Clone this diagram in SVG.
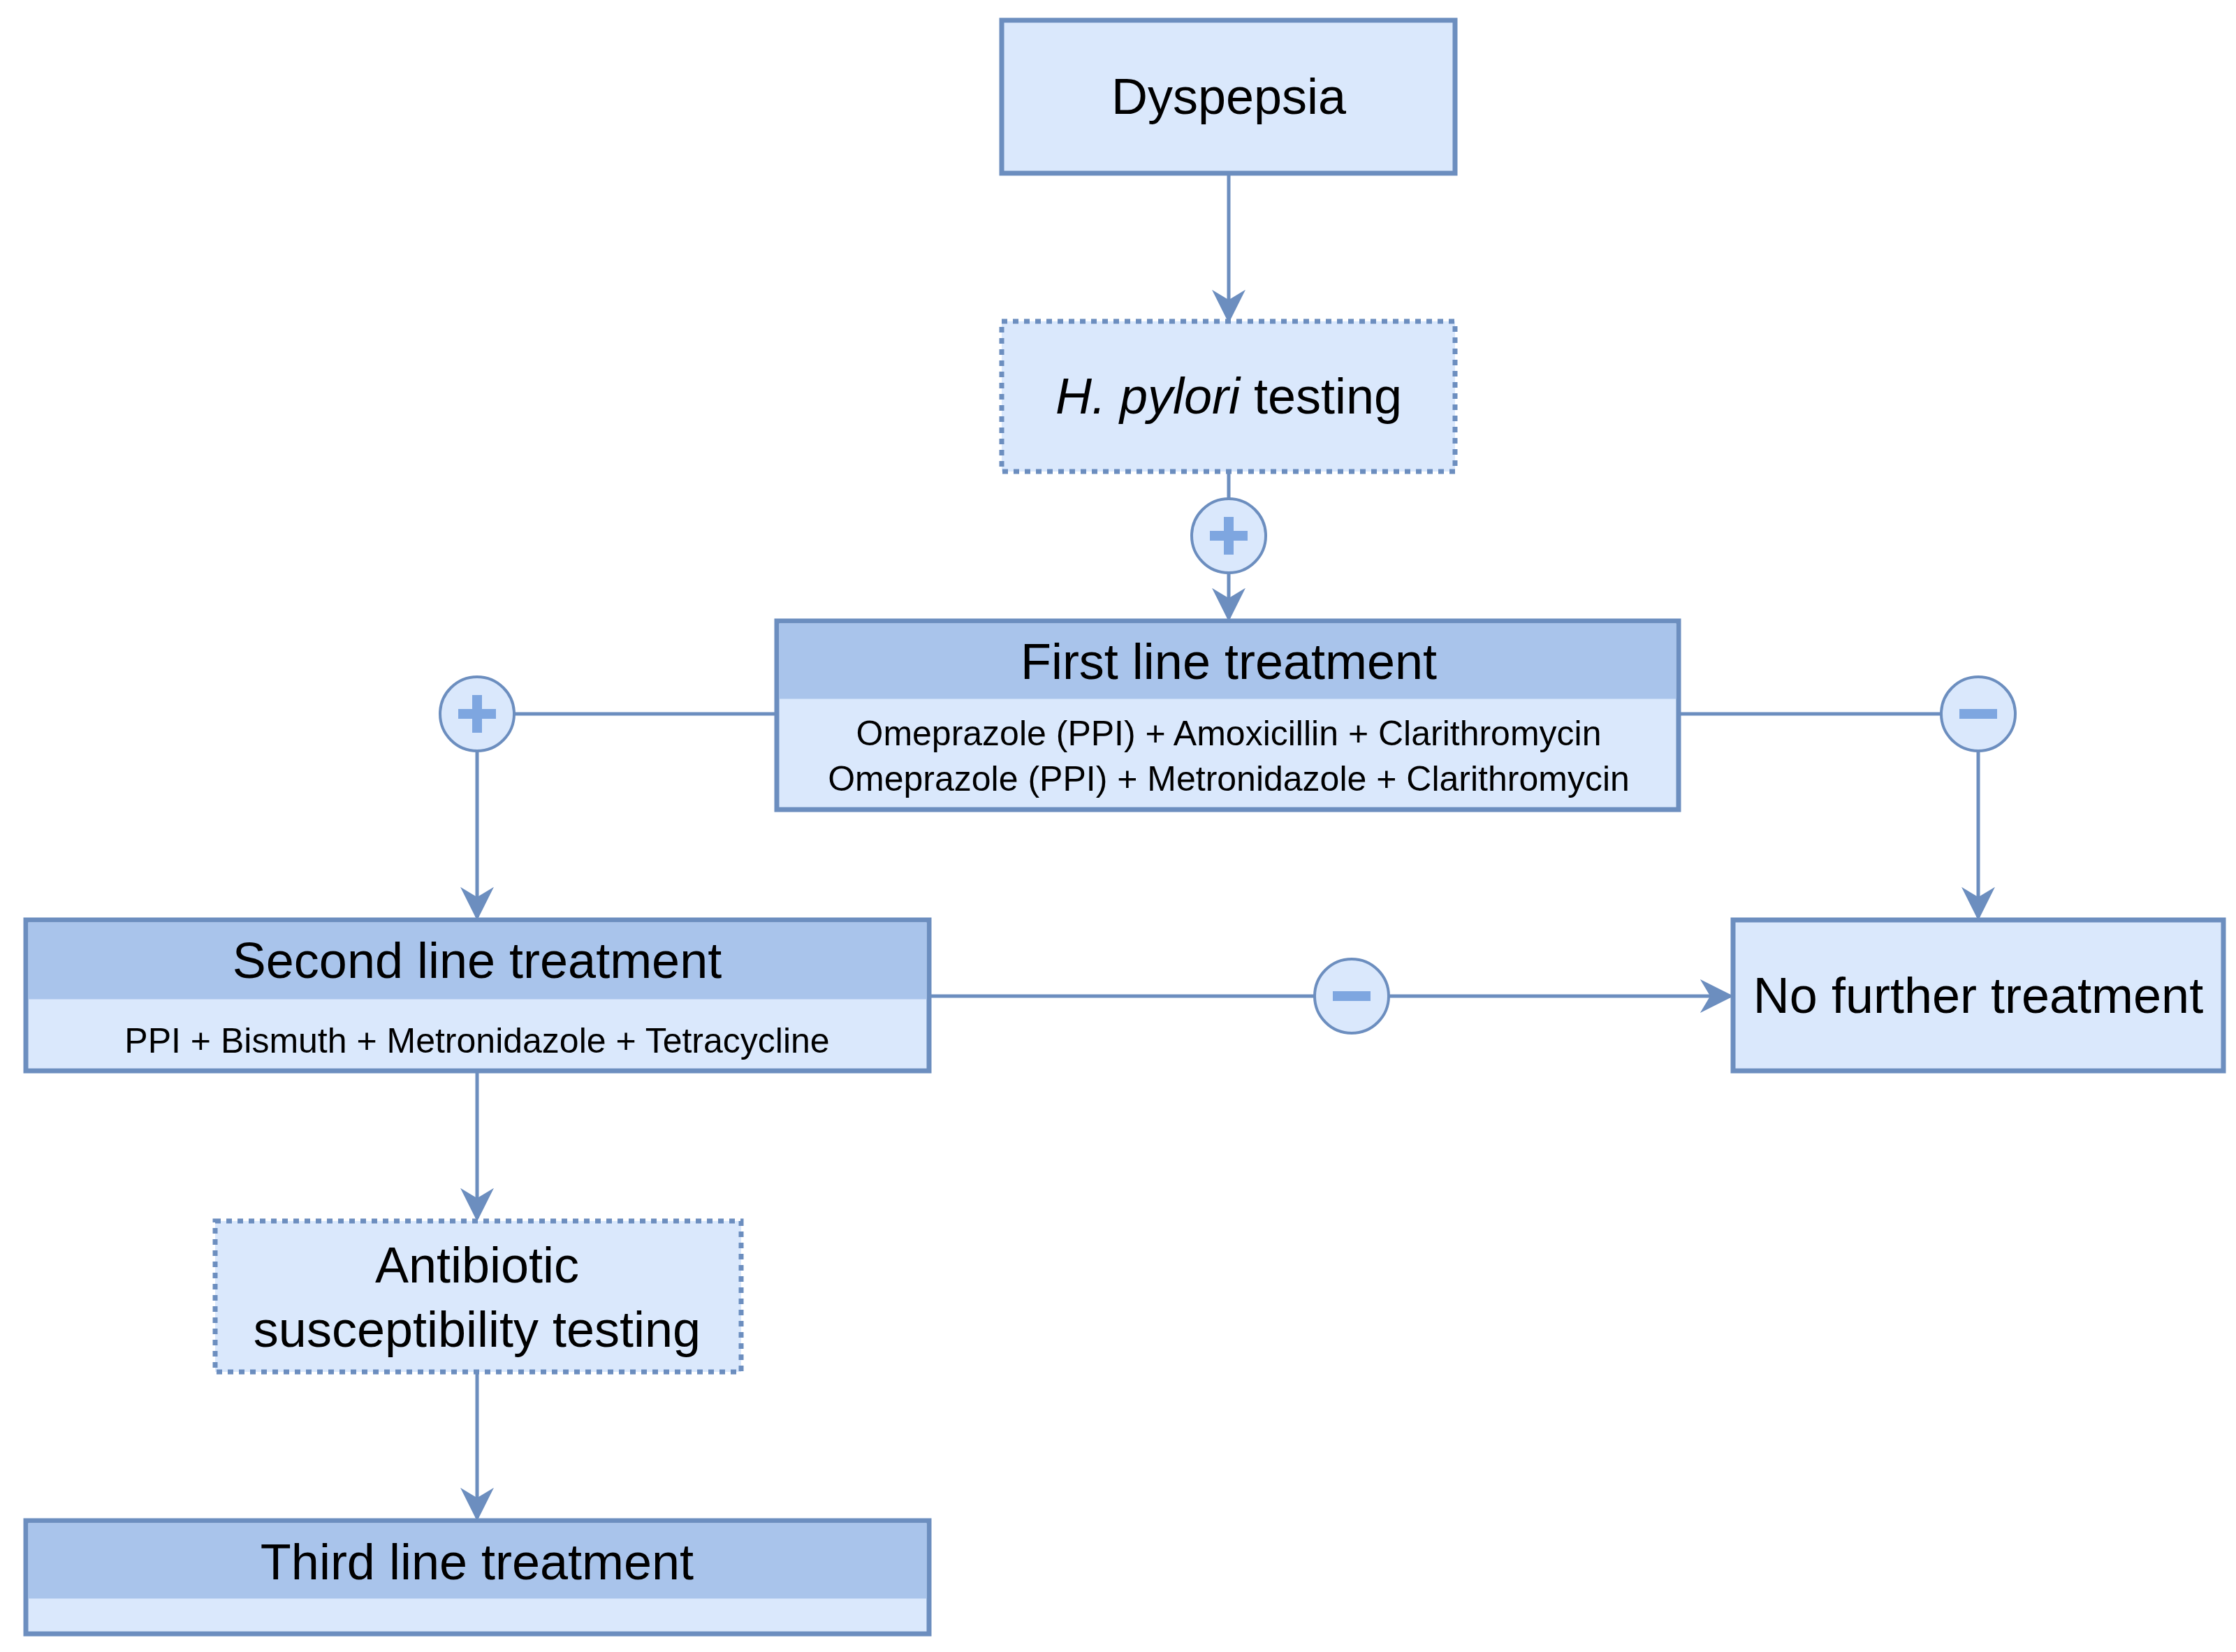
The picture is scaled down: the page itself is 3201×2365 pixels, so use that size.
<svg xmlns="http://www.w3.org/2000/svg" width="3201" height="2365" viewBox="0 0 3201 2365">
<style>
.box{fill:#dae8fc;stroke:#6c8ebf;stroke-width:7}
.dot{fill:#dae8fc;stroke:#6c8ebf;stroke-width:7;stroke-dasharray:8 8}
.hdr{fill:#a9c4eb}
.t{font-family:"Liberation Sans",Arial,sans-serif;fill:#000;text-anchor:middle}
.big{font-size:72px}
.sm{font-size:50px}
.ln{fill:none;stroke:#6c8ebf;stroke-width:5}
.circ{fill:#dae8fc;stroke:#6c8ebf;stroke-width:4}
.sym{stroke:#7ea6e0;stroke-width:14;fill:none}
</style>
<defs>
<marker id="a" viewBox="0 0 10 10" refX="9" refY="5" markerWidth="10" markerHeight="10" markerUnits="userSpaceOnUse" orient="auto">
<path d="M0,0 L10,5 L0,10 L3,5 Z" fill="#6c8ebf"/>
</marker>
<marker id="ar" viewBox="0 0 10 10" refX="9" refY="5" markerWidth="48" markerHeight="48" markerUnits="userSpaceOnUse" orient="auto">
<path d="M0,0 L10,5 L0,10 L3,5 Z" fill="#6c8ebf"/>
</marker>
</defs>
<g id="connectors">
<path class="ln" d="M1759,248 V458" marker-end="url(#ar)"/>
<path class="ln" d="M1759,675 V714"/>
<path class="ln" d="M1759,820 V885" marker-end="url(#ar)"/>
<path class="ln" d="M1112,1022 H736"/>
<path class="ln" d="M683,1075 V1313" marker-end="url(#ar)"/>
<path class="ln" d="M2403,1022 H2779"/>
<path class="ln" d="M2832,1075 V1313" marker-end="url(#ar)"/>
<path class="ln" d="M1330,1426 H1882"/>
<path class="ln" d="M1988,1426 H2477" marker-end="url(#ar)"/>
<path class="ln" d="M683,1533 V1744" marker-end="url(#ar)"/>
<path class="ln" d="M683,1964 V2173" marker-end="url(#ar)"/>
</g>
<g id="plus1"><circle class="circ" cx="1759" cy="767" r="53"/><path class="sym" d="M1732,767 H1786 M1759,740 V794"/></g>
<g id="plus2"><circle class="circ" cx="683" cy="1022" r="53"/><path class="sym" d="M656,1022 H710 M683,995 V1049"/></g>
<g id="minus1"><circle class="circ" cx="2832" cy="1022" r="53"/><path class="sym" d="M2805,1022 H2859"/></g>
<g id="minus2"><circle class="circ" cx="1935" cy="1426" r="53"/><path class="sym" d="M1908,1426 H1962"/></g>
<g id="dyspepsia"><rect class="box" x="1434" y="29" width="649" height="219"/><text class="t big" x="1759" y="163">Dyspepsia</text></g>
<g id="hpylori"><rect class="dot" x="1434" y="460" width="649" height="215"/><text class="t big" x="1759" y="592"><tspan font-style="italic">H. pylori</tspan> testing</text></g>
<g id="first"><rect class="box" x="1112" y="889" width="1291" height="270"/><rect class="hdr" x="1115.5" y="892.5" width="1284" height="108"/><text class="t big" x="1759" y="972">First line treatment</text><text class="t sm" x="1759" y="1067">Omeprazole (PPI) + Amoxicillin + Clarithromycin</text><text class="t sm" x="1759" y="1132">Omeprazole (PPI) + Metronidazole + Clarithromycin</text></g>
<g id="second"><rect class="box" x="37" y="1317" width="1293" height="216"/><rect class="hdr" x="40.5" y="1320.5" width="1286" height="110"/><text class="t big" x="683" y="1400">Second line treatment</text><text class="t sm" x="683" y="1507">PPI + Bismuth + Metronidazole + Tetracycline</text></g>
<g id="nofurther"><rect class="box" x="2481" y="1317" width="702" height="216"/><text class="t big" x="2832" y="1450">No further treatment</text></g>
<g id="antibiotic"><rect class="dot" x="308" y="1748" width="753" height="216"/><text class="t big" x="683" y="1836">Antibiotic</text><text class="t big" x="683" y="1928">susceptibility testing</text></g>
<g id="third"><rect class="box" x="37" y="2177" width="1293" height="162"/><rect class="hdr" x="40.5" y="2180.5" width="1286" height="108"/><text class="t big" x="683" y="2261">Third line treatment</text></g>
</svg>
